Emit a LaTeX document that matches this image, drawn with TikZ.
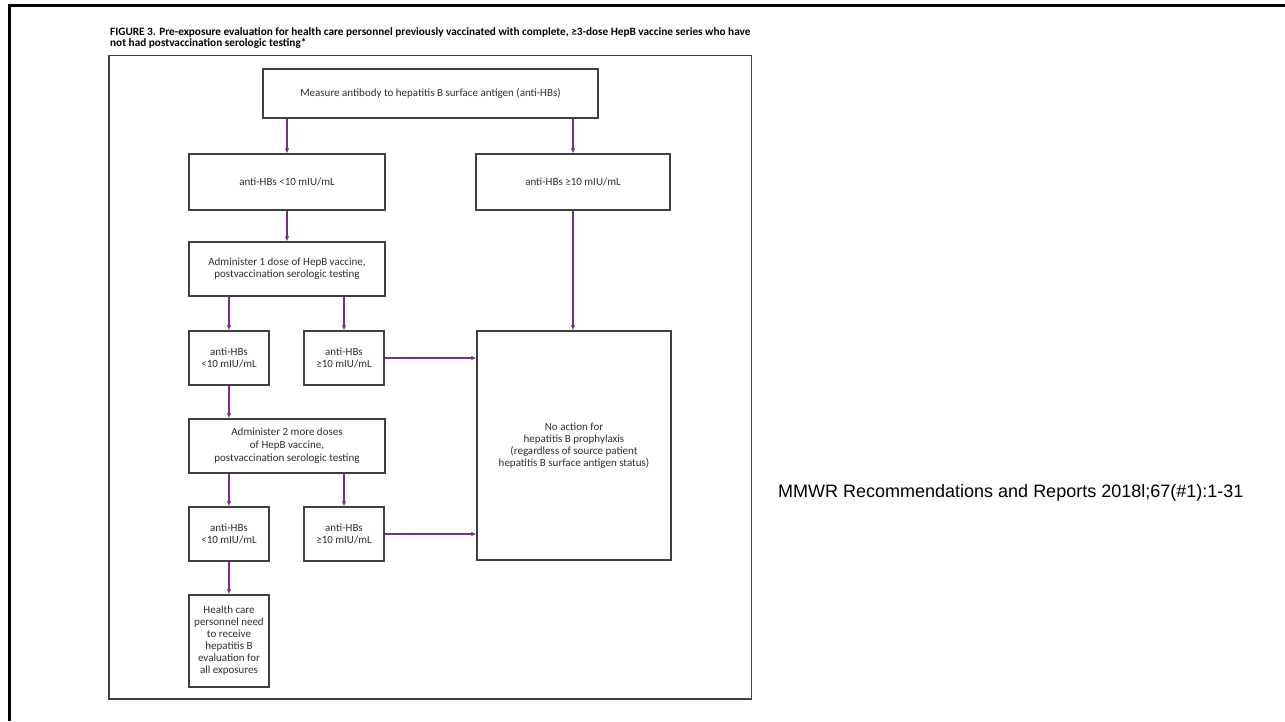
\documentclass[tikz,border=0pt]{standalone}
\usepackage{fontspec}
\setmainfont{Carlito}
\newfontfamily\citefont{Liberation Sans}
\usetikzlibrary{arrows.meta}
\definecolor{arrowpurple}{HTML}{7B2C8C}
\definecolor{boxline}{HTML}{404040}
\definecolor{boxtext}{HTML}{2E2E2E}
\begin{document}
\begin{tikzpicture}[x=1pt,y=-1pt,
  box/.style={draw=boxline, line width=1.3pt, inner sep=0pt, align=center,
    text=boxtext, font=\fontsize{11}{12}\selectfont},
  arr/.style={draw=arrowpurple, line width=1.4pt, -{Latex[length=5pt,width=4.5pt]}},
  titletext/.style={anchor=base west, inner sep=0pt, font=\bfseries\fontsize{11.25}{12}\selectfont}
]
\useasboundingbox (0,0) rectangle (1285,721);
% outer frame (top and left only)
\draw[line width=2.6pt, black] (1285,5.5) -- (9.5,5.5) -- (9.5,721);
% inner frame
\draw[line width=1.2pt, boxline] (109,55.5) rectangle (751.5,699);
% title
\node[titletext] (title1) at (110,35) {FIGURE 3. Pre-exposure evaluation for health care personnel previously vaccinated with complete, ≥3-dose HepB vaccine series who have};
\node[titletext] (title2) at (110,46) {not had postvaccination serologic testing*};
% boxes
\node[box, minimum width=335pt, minimum height=49pt] (measure) at (430.5,93.5) {Measure antibody to hepatitis B surface antigen (anti-HBs)};
\node[box, minimum width=196pt, minimum height=56pt] (lt10a) at (287,182) {anti-HBs \textless10 mIU/mL};
\node[box, minimum width=194pt, minimum height=56pt] (ge10a) at (573,182) {anti-HBs ≥10 mIU/mL};
\node[box, minimum width=196pt, minimum height=54pt] (adm1) at (287,269) {Administer 1 dose of HepB vaccine,\\postvaccination serologic testing};
\node[box, minimum width=80pt, minimum height=54pt] (lt10b) at (229,358) {anti-HBs\\\textless10 mIU/mL};
\node[box, minimum width=80pt, minimum height=54pt] (ge10b) at (344,358) {anti-HBs\\≥10 mIU/mL};
\node[box, minimum width=194pt, minimum height=229pt] (noaction) at (574,445.5) {No action for\\hepatitis B prophylaxis\\(regardless of source patient\\hepatitis B surface antigen status)};
\node[box, minimum width=196pt, minimum height=54pt, font=\fontsize{11}{13}\selectfont] (adm2) at (287,446) {Administer 2 more doses\\of HepB vaccine,\\postvaccination serologic testing};
\node[box, minimum width=80pt, minimum height=54pt] (lt10c) at (229,534) {anti-HBs\\\textless10 mIU/mL};
\node[box, minimum width=80pt, minimum height=54pt] (ge10c) at (344,534) {anti-HBs\\≥10 mIU/mL};
\node[box, minimum width=80pt, minimum height=92pt] (hcp) at (229,641) {Health care\\personnel need\\to receive\\hepatitis B\\evaluation for\\all exposures};
% citation
\node[anchor=base west, inner sep=0pt, font=\citefont\fontsize{18}{20}\selectfont] (cite) at (778,497) {MMWR Recommendations and Reports 2018l;67(\#1):1-31};
% connectors
\draw[arr] (lt10a.north |- measure.south) -- (lt10a.north);
\draw[arr] (ge10a.north |- measure.south) -- (ge10a.north);
\draw[arr] (lt10a.south) -- (adm1.north);
\draw[arr] (ge10a.south) -- (ge10a.south |- noaction.north);
\draw[arr] (lt10b.north |- adm1.south) -- (lt10b.north);
\draw[arr] (ge10b.north |- adm1.south) -- (ge10b.north);
\draw[arr] (ge10b.east) -- (ge10b.east -| noaction.west);
\draw[arr] (lt10b.south) -- (lt10b.south |- adm2.north);
\draw[arr] (lt10c.north |- adm2.south) -- (lt10c.north);
\draw[arr] (ge10c.north |- adm2.south) -- (ge10c.north);
\draw[arr] (ge10c.east) -- (ge10c.east -| noaction.west);
\draw[arr] (lt10c.south) -- (hcp.north);
\end{tikzpicture}
\end{document}
